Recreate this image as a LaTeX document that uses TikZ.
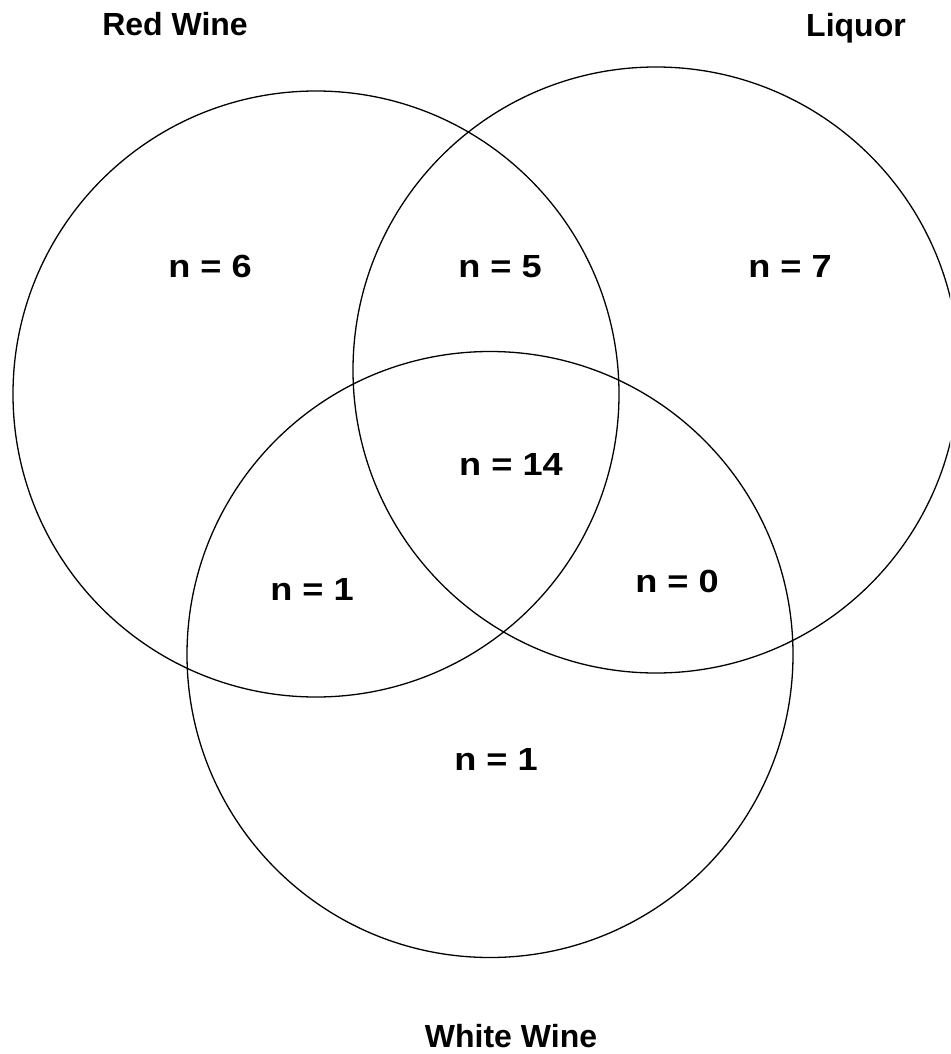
\documentclass[tikz,border=0pt]{standalone}
\usepackage{fontspec}
\usepackage{graphicx}
\setmainfont{Liberation Sans}
\newcommand{\wide}[1]{\scalebox{1.13}[1]{#1}}

\begin{document}
\begin{tikzpicture}[x=1pt,y=-1pt,line width=1.3pt,
                    set/.style={circle,draw,minimum size=606pt,inner sep=0pt},
                    lbl/.style={font=\fontsize{32}{38}\selectfont\bfseries,anchor=base,inner sep=0pt}]
   \clip (0,0) rectangle (950,1054);
   % the three sets
   \node[set] (red_w) at (316,394) {};
   \node[set] (liquor) at (656,370) {};
   \node[set] (white_w) at (490,654.5) {};
   % set names
   \node[lbl] (l_red) at (175,36) {Red Wine};
   \node[lbl] (l_liq) at (856,37) {Liquor};
   \node[lbl] (l_white) at (511,1047) {White Wine};
   % counts per region
   \node[lbl] (n_r) at (210,277) {\wide{n = 6}};
   \node[lbl] (n_rl) at (500,277) {\wide{n = 5}};
   \node[lbl] (n_l) at (790,277) {\wide{n = 7}};
   \node[lbl] (n_rlw) at (511,475) {\wide{n = 14}};
   \node[lbl] (n_rw) at (312,600) {\wide{n = 1}};
   \node[lbl] (n_lw) at (677,592) {\wide{n = 0}};
   \node[lbl] (n_w) at (496,770) {\wide{n = 1}};
\end{tikzpicture}
\end{document}
